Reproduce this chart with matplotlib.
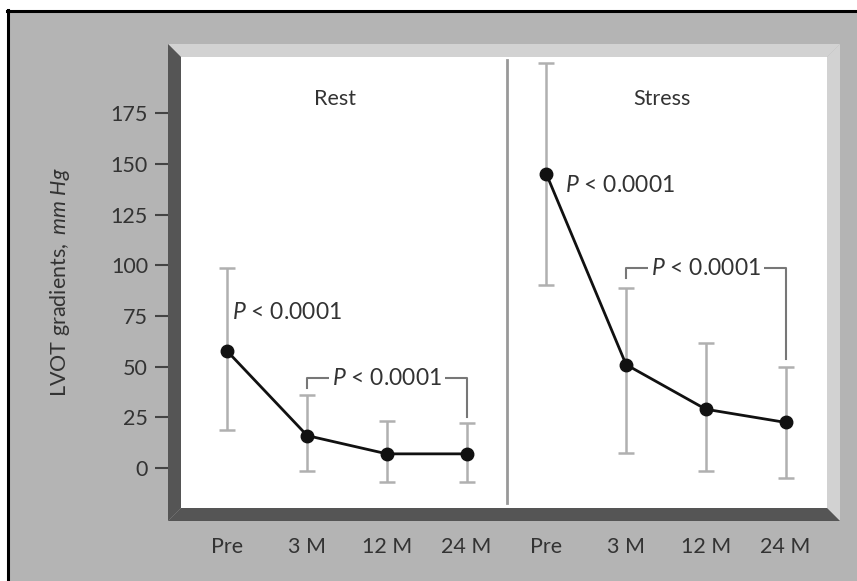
import matplotlib.pyplot as plt
from matplotlib.patches import Polygon, Rectangle
from matplotlib.lines import Line2D

plt.rcParams['font.family'] = ['Lato', 'DejaVu Sans']
plt.rcParams['mathtext.fontset'] = 'custom'
plt.rcParams['mathtext.rm'] = 'Lato'
plt.rcParams['mathtext.it'] = 'Lato:italic'

# data
groups = ['Rest', 'Stress']
timepoints = ['Pre', '3 M', '12 M', '24 M']
rest_mean = [57.5, 16, 7, 7]
rest_upper = [98.5, 36, 23, 22]
rest_lower = [19, -1.5, -7, -7]
stress_mean = [145, 51, 29, 22.5]
stress_upper = [199.5, 89, 61.5, 50]
stress_lower = [90.5, 7.5, -1.5, -5]
yticks = [0, 25, 50, 75, 100, 125, 150, 175]
p_label = r'$\mathit{P}$ < 0.0001'

W, H = 857, 581
TXT = '#333333'
ERR = '#b0b0b0'
FS = 15.5


def px(x, y):
    return (x / W, 1 - y / H)


fig = plt.figure(figsize=(W / 100, H / 100), dpi=100, facecolor='white')

# outer grey panel with black top/left border
fig.add_artist(Rectangle(px(7, H), (W - 7) / W, (H - 10) / H, transform=fig.transFigure,
                         facecolor='#b4b4b4', edgecolor='none', zorder=0))
fig.add_artist(Line2D([7 / W, 1], [1 - 11 / H] * 2, transform=fig.transFigure, color='black', lw=2.2))
fig.add_artist(Line2D([8 / W] * 2, [1 - 10 / H, 0], transform=fig.transFigure, color='black', lw=2.2))

# bevel frame around plot area
L, T, R, B = 181, 57, 827, 508
o = 13
frames = [
    ([(L - o, T - o), (R + o, T - o), (R, T), (L, T)], '#d2d2d2'),
    ([(R + o, T - o), (R + o, B + o), (R, B), (R, T)], '#d2d2d2'),
    ([(L - o, T - o), (L, T), (L, B), (L - o, B + o)], '#555555'),
    ([(L - o, B + o), (L, B), (R, B), (R + o, B + o)], '#555555'),
]
for pts, c in frames:
    fig.add_artist(Polygon([px(*p) for p in pts], closed=True, transform=fig.transFigure,
                           facecolor=c, edgecolor='none', zorder=1))

ax = fig.add_axes([L / W, 1 - B / H, (R - L) / W, (B - T) / H])
ax.set_facecolor('white')
ax.set_zorder(2)

x_rest = list(range(len(timepoints)))
x_stress = [i + len(timepoints) for i in x_rest]

for xs, m, up, lo in [(x_rest, rest_mean, rest_upper, rest_lower),
                      (x_stress, stress_mean, stress_upper, stress_lower)]:
    yerr = [[a - b for a, b in zip(m, lo)], [b - a for a, b in zip(m, up)]]
    ax.errorbar(xs, m, yerr=yerr, fmt='none', ecolor=ERR, elinewidth=1.8, capsize=5.8,
                capthick=1.8, zorder=2)
    ax.plot(xs, m, color='#111111', lw=2, marker='o', ms=9, zorder=3)

# divider between rest and stress
ax.plot([3.5, 3.5], [-17.3, 201], color='#999999', lw=2, zorder=1)

# panel titles
ax.text(1.35, 182, groups[0], ha='center', va='center', fontsize=FS, color=TXT)
ax.text(5.45, 182, groups[1], ha='center', va='center', fontsize=FS, color=TXT)

# P labels next to the Pre points
ax.text(0.06, 76.5, p_label, ha='left', va='center', fontsize=FS + 1, color=TXT)
ax.text(4.23, 139.5, p_label, ha='left', va='center', fontsize=FS + 1, color=TXT)

# brackets
brackets = [(1, 3, 44.4, 39.5, 25), (5, 7, 98.6, 93.7, 54)]
for x0, x1, top, l_end, r_end in brackets:
    ax.plot([x0, x0, x1, x1], [l_end, top, top, r_end], color='#777777', lw=1.5, zorder=2)
    ax.text((x0 + x1) / 2, top, p_label, ha='center', va='center', fontsize=FS + 1, color=TXT,
            bbox=dict(facecolor='white', edgecolor='none', pad=2), zorder=3)

ax.set_xlim(-0.583, 7.52)
ax.set_ylim(-19.7, 202.7)
ax.set_xticks(x_rest + x_stress)
ax.set_xticklabels(timepoints * 2)
ax.set_yticks(yticks)
for s in ax.spines.values():
    s.set_visible(False)
ax.spines['left'].set_position(('outward', 9.4))
ax.tick_params(axis='x', length=0, pad=21, labelsize=FS, labelcolor=TXT)
ax.tick_params(axis='y', length=9.4, width=1.5, color='#444444', pad=5, labelsize=FS,
               labelcolor=TXT)

fig.text(60 / W, 1 - 282 / H, r'$\mathrm{LVOT\ gradients,\ }\mathit{mm\ Hg}$', rotation=90,
         ha='center', va='center', fontsize=FS, color=TXT)

fig.savefig('out.png', dpi=100, facecolor='white')
